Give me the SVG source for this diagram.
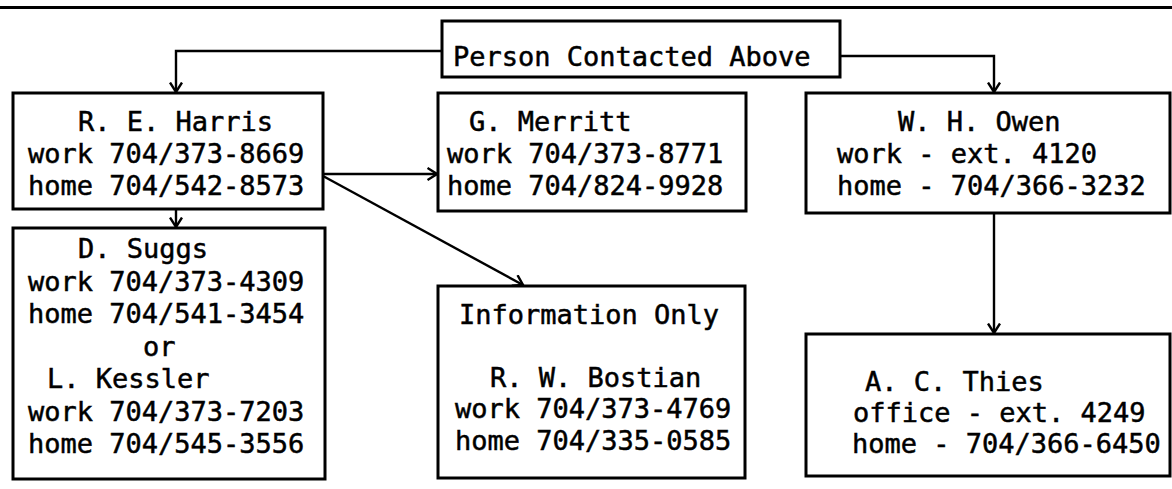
<svg xmlns="http://www.w3.org/2000/svg" width="1172" height="489" viewBox="0 0 1172 489">
<defs>
<style>
.box{fill:#fff;stroke:#000;stroke-width:3}
.t{font-family:"DejaVu Sans Mono","Liberation Mono",monospace;font-size:27px;fill:#000;stroke:#000;stroke-width:0.5}
.c{fill:none;stroke:#000;stroke-width:2.4}
</style>
<marker id="ah" viewBox="0 0 12 14" refX="10.5" refY="7" markerWidth="12" markerHeight="14" markerUnits="userSpaceOnUse" orient="auto">
<path d="M1,1 L10.5,7 L1,13" fill="none" stroke="#000" stroke-width="2.4"/>
</marker>
</defs>
<rect width="1172" height="489" fill="#fff"/>
<line x1="0" y1="7.5" x2="1172" y2="7.5" stroke="#000" stroke-width="2.8"/>
<g id="connectors">
<polyline class="c" points="442,51 176,51 176,92" marker-end="url(#ah)"/>
<polyline class="c" points="840,56 994,56 994,92" marker-end="url(#ah)"/>
<line class="c" x1="176" y1="209" x2="176" y2="227" marker-end="url(#ah)"/>
<line class="c" x1="323" y1="174" x2="437" y2="174" marker-end="url(#ah)"/>
<line class="c" x1="323" y1="176" x2="523" y2="285" marker-end="url(#ah)"/>
<line class="c" x1="994" y1="213" x2="994" y2="333" marker-end="url(#ah)"/>
</g>
<g id="person">
<rect class="box" x="442" y="21" width="398" height="56"/>
<text class="t" x="453" y="66">Person Contacted Above</text>
</g>
<g id="harris">
<rect class="box" x="13" y="93" width="310" height="116"/>
<text class="t" x="78" y="131">R. E. Harris</text>
<text class="t" x="28" y="163">work 704/373-8669</text>
<text class="t" x="28" y="195">home 704/542-8573</text>
</g>
<g id="merritt">
<rect class="box" x="438" y="93" width="308" height="118"/>
<text class="t" x="469" y="131">G. Merritt</text>
<text class="t" x="447" y="163">work 704/373-8771</text>
<text class="t" x="447" y="195">home 704/824-9928</text>
</g>
<g id="owen">
<rect class="box" x="806" y="93" width="364" height="120"/>
<text class="t" x="898" y="131">W. H. Owen</text>
<text class="t" x="837" y="163">work - ext. 4120</text>
<text class="t" x="837" y="195">home - 704/366-3232</text>
</g>
<g id="suggs">
<rect class="box" x="13" y="228" width="312" height="251"/>
<text class="t" x="78" y="258">D. Suggs</text>
<text class="t" x="28" y="290.5">work 704/373-4309</text>
<text class="t" x="28" y="323">home 704/541-3454</text>
<text class="t" x="143" y="355.5">or</text>
<text class="t" x="47" y="388">L. Kessler</text>
<text class="t" x="28" y="420.5">work 704/373-7203</text>
<text class="t" x="28" y="453">home 704/545-3556</text>
</g>
<g id="info">
<rect class="box" x="438" y="286" width="307" height="192"/>
<text class="t" x="459" y="324">Information Only</text>
<text class="t" x="490" y="387">R. W. Bostian</text>
<text class="t" x="455" y="418">work 704/373-4769</text>
<text class="t" x="455" y="450">home 704/335-0585</text>
</g>
<g id="thies">
<rect class="box" x="806" y="334" width="364" height="142"/>
<text class="t" x="865" y="391">A. C. Thies</text>
<text class="t" x="853" y="422">office - ext. 4249</text>
<text class="t" x="852" y="453">home - 704/366-6450</text>
</g>
</svg>
